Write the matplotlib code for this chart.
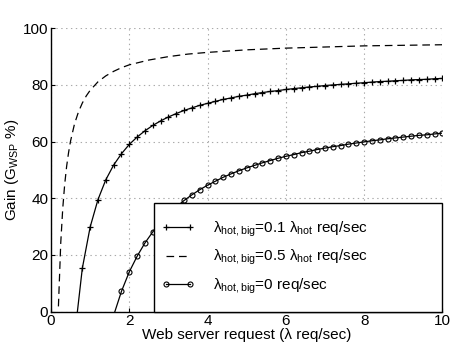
import matplotlib
matplotlib.use("Agg")
import matplotlib.pyplot as plt
from matplotlib.patches import Rectangle

plt.rcParams['font.family'] = ['Liberation Sans', 'DejaVu Sans']
plt.rcParams['mathtext.fontset'] = 'custom'
plt.rcParams['mathtext.rm'] = 'Liberation Sans'
plt.rcParams['mathtext.it'] = 'Liberation Sans'
plt.rcParams['mathtext.bf'] = 'Liberation Sans:bold'
plt.rcParams['lines.scale_dashes'] = False

# ---- data ----
x_plus = [0.6, 0.8, 1.0, 1.2, 1.4, 1.6, 1.8, 2.0, 2.2, 2.4, 2.6, 2.8, 3.0, 3.2, 3.4, 3.6, 3.8,
          4.0, 4.2, 4.4, 4.6, 4.8, 5.0, 5.2, 5.4, 5.6, 5.8, 6.0, 6.2, 6.4, 6.6, 6.8, 7.0,
          7.2, 7.4, 7.6, 7.8, 8.0, 8.2, 8.4, 8.6, 8.8, 9.0, 9.2, 9.4, 9.6, 9.8, 10.0]
gain_01 = [-9.1, 15.2, 29.8, 39.5, 46.5, 51.7, 55.7, 59.0, 61.6, 63.8, 65.7, 67.3, 68.7, 69.9,
           71.0, 71.9, 72.8, 73.5, 74.2, 74.9, 75.4, 76.0, 76.4, 76.9, 77.3, 77.7, 78.0, 78.4,
           78.7, 79.0, 79.3, 79.5, 79.8, 80.0, 80.2, 80.4, 80.6, 80.8, 81.0, 81.2, 81.3, 81.5,
           81.6, 81.8, 81.9, 82.0, 82.2, 82.3]

x_dash = [0.19, 0.25, 0.3, 0.35, 0.4, 0.45, 0.5, 0.6, 0.7, 0.8, 0.9, 1.0, 1.2, 1.4, 1.6, 1.8,
          2.0, 2.5, 3.0, 3.5, 4.0, 5.0, 6.0, 7.0, 8.0, 9.0, 10.0]
gain_05 = [1.8, 24.4, 36.3, 44.9, 51.3, 56.2, 60.2, 66.2, 70.4, 73.6, 76.1, 78.1, 81.1, 83.2,
           84.8, 86.1, 87.1, 88.8, 90.0, 90.9, 91.5, 92.4, 93.0, 93.4, 93.8, 94.0, 94.2]

x_circ = [1.6, 1.8, 2.0, 2.2, 2.4, 2.6, 2.8, 3.0, 3.2, 3.4, 3.6, 3.8, 4.0, 4.2, 4.4, 4.6, 4.8,
          5.0, 5.2, 5.4, 5.6, 5.8, 6.0, 6.2, 6.4, 6.6, 6.8, 7.0, 7.2, 7.4, 7.6, 7.8, 8.0,
          8.2, 8.4, 8.6, 8.8, 9.0, 9.2, 9.4, 9.6, 9.8, 10.0]
gain_0 = [-1.4, 7.1, 14.0, 19.5, 24.2, 28.1, 31.5, 34.4, 36.9, 39.2, 41.2, 43.0, 44.6, 46.0,
          47.4, 48.6, 49.7, 50.7, 51.6, 52.5, 53.3, 54.1, 54.8, 55.4, 56.1, 56.6, 57.2, 57.7,
          58.2, 58.6, 59.1, 59.5, 59.9, 60.3, 60.6, 61.0, 61.3, 61.6, 61.9, 62.2, 62.4, 62.7, 63.0]

labels = [r'$λ_{\mathrm{hot,big}}$=0.1 $λ_{\mathrm{hot}}$ req/sec',
          r'$λ_{\mathrm{hot,big}}$=0.5 $λ_{\mathrm{hot}}$ req/sec',
          r'$λ_{\mathrm{hot,big}}$=0 req/sec']
xticks = [0, 2, 4, 6, 8, 10]
yticks = [0, 20, 40, 60, 80, 100]

FS = 11
fig = plt.figure(figsize=(4.52, 3.47), dpi=100)
ax = fig.add_axes([0.1128, 0.1023, 0.866, 0.8161])

ax.plot(x_plus, gain_01, color='black', lw=0.9, marker='+', ms=5, mew=0.9, label=labels[0])
ax.plot(x_dash, gain_05, color='black', lw=0.9, linestyle=(0, (5.5, 3.5)), label=labels[1])
ax.plot(x_circ, gain_0, color='black', lw=0.9, marker='o', ms=3.6, mew=0.8,
        mfc='none', label=labels[2])

ax.set_xlim(0, 10)
ax.set_ylim(0, 100)
ax.set_xticks(xticks)
ax.set_yticks(yticks)
ax.tick_params(direction='in', length=3, labelsize=FS, pad=2, width=0.8)
ax.grid(True, color='#aaaaaa', linestyle=(0, (1, 2.5)), linewidth=0.8)
ax.set_axisbelow(True)
for s in ['top', 'right']:
    ax.spines[s].set_visible(False)
for s in ['left', 'bottom']:
    ax.spines[s].set_linewidth(1.0)

ax.set_xlabel('Web server request (λ req/sec)', fontsize=FS, labelpad=0)
ax.set_ylabel(r'Gain (G$_{\mathrm{WSP}}$ %)', fontsize=FS, labelpad=1)

# legend frame (Matlab-style box larger than its content)
box = Rectangle((0.263, 0.0), 0.737, 0.383, transform=ax.transAxes, facecolor='white',
                edgecolor='black', linewidth=1.0, zorder=4, clip_on=False)
ax.add_patch(box)
leg = ax.legend(loc='center left', bbox_to_anchor=(0.281, 0.19), fontsize=FS, frameon=False,
                borderaxespad=0, borderpad=0, handlelength=2.2, handletextpad=1.2,
                labelspacing=0.6, numpoints=2)
leg.set_zorder(5)

fig.savefig('out.png', dpi=100)
